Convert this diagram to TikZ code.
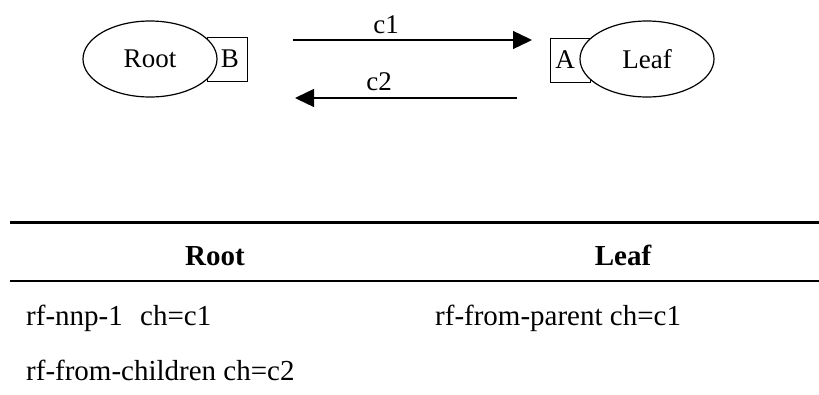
\documentclass[tikz,border=0pt]{standalone}
\usepackage{fontspec}
\setmainfont{Liberation Serif}
\usetikzlibrary{arrows.meta,shapes.geometric}

\begin{document}
\begin{tikzpicture}[x=1pt,y=-1pt,
  proc/.style={draw,ellipse,fill=white,line width=1.2pt,minimum width=134pt,minimum height=76pt,inner sep=0pt,font=\fontsize{27}{30}\selectfont},
  port/.style={draw,rectangle,line width=1pt,minimum width=40pt,minimum height=44pt,inner sep=0pt,font=\fontsize{27}{30}\selectfont},
  chan/.style={line width=1.3pt,-{Triangle[length=19pt,width=18pt]}},
  chlabel/.style={anchor=base,inner sep=0pt,font=\fontsize{27}{30}\selectfont},
  head/.style={anchor=base,inner sep=0pt,font=\fontsize{29}{32}\selectfont\bfseries},
  cell/.style={anchor=base west,inner sep=0pt,font=\fontsize{29}{32}\selectfont}]
\useasboundingbox (0,0) rectangle (819,394);

% ports first, the ellipses cover their inner edge
\node[port] (B) at (227,59) {\hspace*{6pt}B};
\node[port] (A) at (570,60) {A\hspace*{10pt}};
\node[proc] (root) at (150,59) {Root};
\node[proc] (leaf) at (647,59) {Leaf};

% channels between the two
\coordinate (c1from) at (293,40);
\coordinate (c1to) at (532,40);
\coordinate (c2from) at (517,98);
\coordinate (c2to) at (295,98);
\draw[chan] (c1from) -- (c1to);
\draw[chan] (c2from) -- (c2to);
\node[chlabel] (c1) at (386,33) {c1};
\node[chlabel] (c2) at (379,90) {c2};

% table
\draw[line width=3pt] (10,222) -- (819,222);
\draw[line width=2pt] (10,281) -- (819,281);
\node[head] (hroot) at (215,265) {Root};
\node[head] (hleaf) at (623,265) {Leaf};
\node[cell] (r1) at (26,325) {rf-nnp-1\hspace{0.6em}ch=c1};
\node[cell] (l1) at (435,325) {rf-from-parent ch=c1};
\node[cell] (r2) at (26,380) {rf-from-children ch=c2};
\end{tikzpicture}
\end{document}
